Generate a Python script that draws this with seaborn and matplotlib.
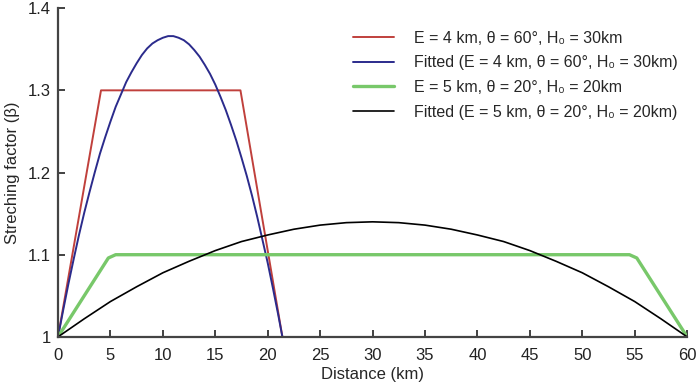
import numpy as np
import pandas as pd
import matplotlib
matplotlib.use("Agg")
import matplotlib.pyplot as plt
import seaborn as sns

# values
red_x = [0, 4.1, 17.4, 21.4]
red_y = [1.0, 1.3, 1.3, 1.0]

blue_x = [0, 0.5, 1, 1.5, 2, 2.5, 3, 3.5, 4, 4.5, 5, 5.5, 6, 6.5, 7, 7.5, 8, 8.5, 9, 9.5,
          10, 10.5, 11, 11.5, 12, 12.5, 13, 13.5, 14, 14.5, 15, 15.5, 16, 16.5, 17, 17.5,
          18, 18.5, 19, 19.5, 20, 20.5, 21, 21.4]
blue_y = [1.000, 1.033, 1.065, 1.095, 1.124, 1.151, 1.176, 1.200, 1.223, 1.243, 1.262, 1.280,
          1.295, 1.310, 1.322, 1.333, 1.343, 1.351, 1.357, 1.361, 1.364, 1.366, 1.366, 1.364,
          1.361, 1.356, 1.349, 1.341, 1.331, 1.320, 1.307, 1.292, 1.276, 1.258, 1.239, 1.218,
          1.196, 1.172, 1.146, 1.118, 1.090, 1.059, 1.027, 1.000]

green_x = [0, 4.8, 5.5, 54.5, 55.2, 60]
green_y = [1.0, 1.096, 1.1, 1.1, 1.096, 1.0]

black_x = [0, 2.5, 5, 7.5, 10, 12.5, 15, 17.5, 20, 22.5, 25, 27.5, 30,
           32.5, 35, 37.5, 40, 42.5, 45, 47.5, 50, 52.5, 55, 57.5, 60]
black_y = [1.000, 1.022, 1.043, 1.061, 1.078, 1.092, 1.105, 1.116, 1.124, 1.131, 1.136, 1.139, 1.140,
           1.139, 1.136, 1.131, 1.124, 1.116, 1.105, 1.092, 1.078, 1.061, 1.043, 1.022, 1.000]

labels = ["E = 4 km, θ = 60°, H₀ = 30km",
          "Fitted (E = 4 km, θ = 60°, H₀ = 30km)",
          "E = 5 km, θ = 20°, H₀ = 20km",
          "Fitted (E = 5 km, θ = 20°, H₀ = 20km)"]

sns.set_style("ticks")
plt.rcParams['font.family'] = ['Liberation Sans', 'DejaVu Sans']

fig = plt.figure(figsize=(6.99, 3.89), dpi=100)
ax = fig.add_axes([0.083, 0.134, 0.900, 0.845])

sns.lineplot(x=red_x, y=red_y, ax=ax, color="#c0403c", lw=1.4, label=labels[0], sort=False)
sns.lineplot(x=blue_x, y=blue_y, ax=ax, color="#2b2b8c", lw=1.4, label=labels[1], sort=False)
sns.lineplot(x=green_x, y=green_y, ax=ax, color="#78c86a", lw=2.4, label=labels[2], sort=False)
sns.lineplot(x=black_x, y=black_y, ax=ax, color="black", lw=1.2, label=labels[3], sort=False)

ax.set_xlim(0, 60)
ax.set_ylim(1, 1.4)
ax.set_xticks(np.arange(0, 61, 5))
ax.set_yticks([1, 1.1, 1.2, 1.3, 1.4])
ax.set_yticklabels(["1", "1.1", "1.2", "1.3", "1.4"])
ax.set_xlabel("Distance (km)", fontsize=12, labelpad=3)
ax.set_ylabel("Streching factor (β)", fontsize=12, labelpad=6)
ax.tick_params(direction="in", length=5, width=1.3, colors="#333333", labelsize=12,
               labelcolor="#222222", pad=5)
ax.tick_params(axis="x", pad=8)
for s in ["left", "bottom"]:
    ax.spines[s].set_linewidth(1.6)
    ax.spines[s].set_color("#444444")
sns.despine(ax=ax)

ax.legend(loc="upper left", bbox_to_anchor=(0.446, 0.975), frameon=False, fontsize=11.5,
          handlelength=2.6, handletextpad=1.2, labelspacing=0.6)

fig.savefig("out.png", dpi=100)
